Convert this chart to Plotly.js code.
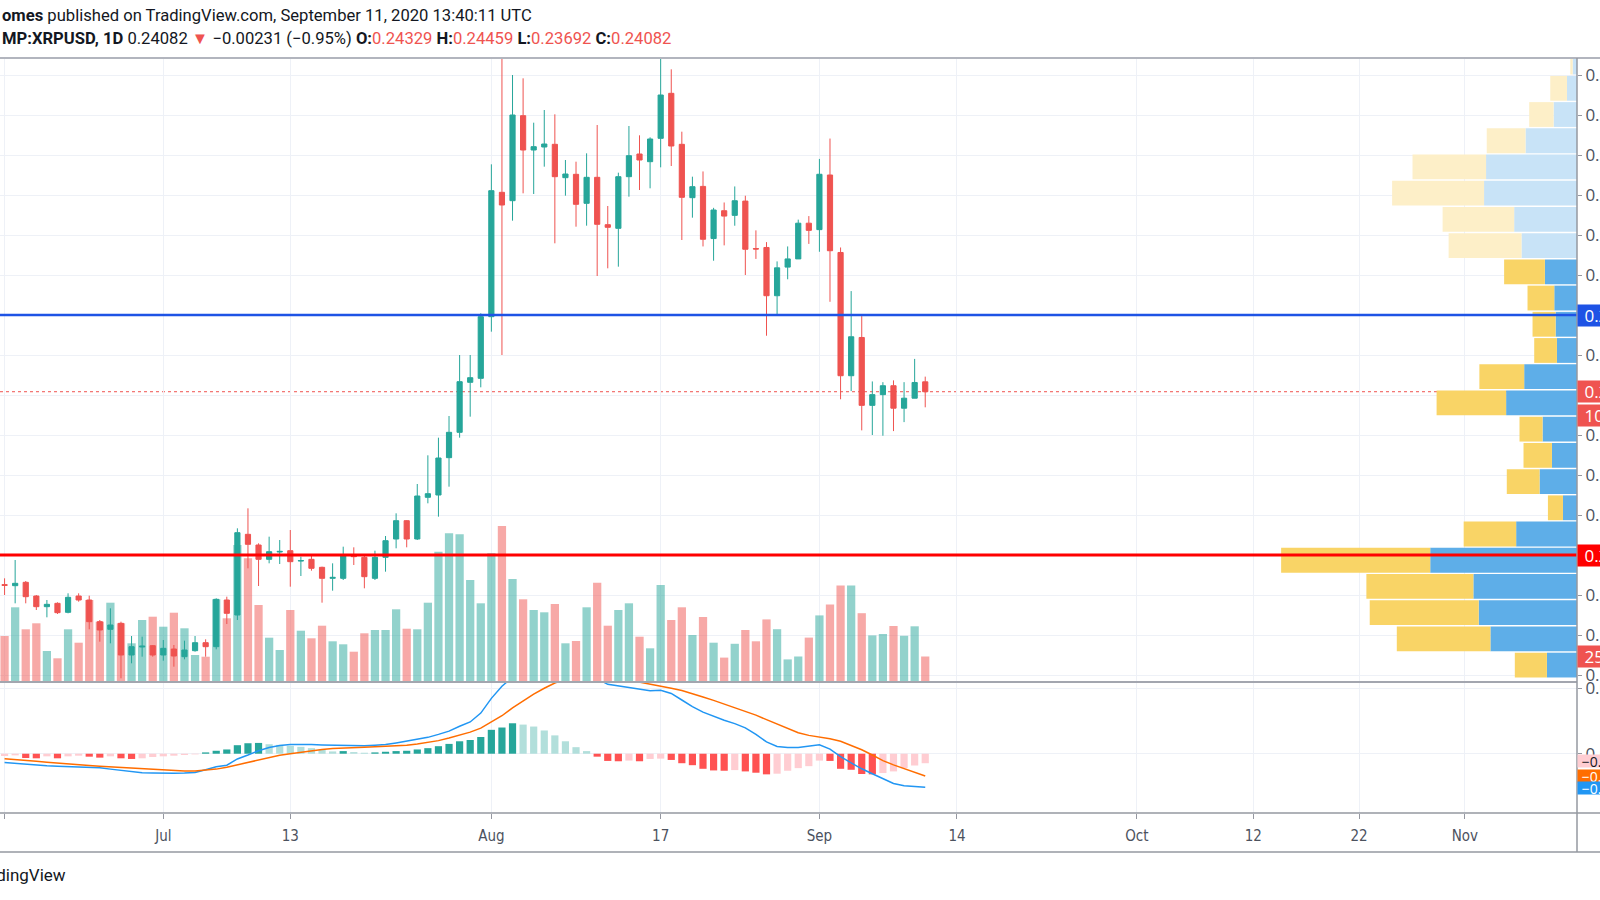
<!DOCTYPE html>
<html>
<head>
<meta charset="utf-8">
<script src="https://cdn.plot.ly/plotly-3.0.1.min.js"></script>
<style>
  html, body { margin: 0; padding: 0; background: #ffffff; }
  #chart { width: 1600px; height: 900px; }
</style>
</head>
<body>
<div id="chart"></div>
<script>
// ---------------- DATA ----------------
const dates = [
  '2020-06-16','2020-06-17','2020-06-18','2020-06-19','2020-06-20','2020-06-21','2020-06-22','2020-06-23','2020-06-24','2020-06-25',
  '2020-06-26','2020-06-27','2020-06-28','2020-06-29','2020-06-30','2020-07-01','2020-07-02','2020-07-03','2020-07-04','2020-07-05',
  '2020-07-06','2020-07-07','2020-07-08','2020-07-09','2020-07-10','2020-07-11','2020-07-12','2020-07-13','2020-07-14','2020-07-15',
  '2020-07-16','2020-07-17','2020-07-18','2020-07-19','2020-07-20','2020-07-21','2020-07-22','2020-07-23','2020-07-24','2020-07-25',
  '2020-07-26','2020-07-27','2020-07-28','2020-07-29','2020-07-30','2020-07-31','2020-08-01','2020-08-02','2020-08-03','2020-08-04',
  '2020-08-05','2020-08-06','2020-08-07','2020-08-08','2020-08-09','2020-08-10','2020-08-11','2020-08-12','2020-08-13','2020-08-14',
  '2020-08-15','2020-08-16','2020-08-17','2020-08-18','2020-08-19','2020-08-20','2020-08-21','2020-08-22','2020-08-23','2020-08-24',
  '2020-08-25','2020-08-26','2020-08-27','2020-08-28','2020-08-29','2020-08-30','2020-08-31','2020-09-01','2020-09-02','2020-09-03',
  '2020-09-04','2020-09-05','2020-09-06','2020-09-07','2020-09-08','2020-09-09','2020-09-10','2020-09-11'
];
const opens = [
  0.19260,0.19233,0.19317,0.18975,0.18708,0.18792,0.18567,0.18975,0.18875,0.18333,
  0.18142,0.18292,0.17500,0.17700,0.17733,0.17500,0.17650,0.17458,0.17608,0.17808,
  0.17708,0.18875,0.18500,0.20517,0.20250,0.19892,0.20075,0.20108,0.19850,0.19892,
  0.19692,0.19417,0.19417,0.19992,0.19942,0.19417,0.19942,0.20400,0.20858,0.20400,
  0.21442,0.21500,0.22433,0.23067,0.24317,0.24417,0.25958,0.29067,0.28858,0.30983,
  0.30125,0.30200,0.30267,0.29433,0.29517,0.28792,0.29442,0.28258,0.28167,0.29458,
  0.30025,0.29833,0.30417,0.31542,0.30267,0.28933,0.29215,0.27911,0.28607,0.28491,
  0.28848,0.27660,0.27688,0.26482,0.27197,0.27402,0.28295,0.28134,0.29500,0.27563,
  0.24482,0.25438,0.23741,0.24009,0.24232,0.23670,0.23920,0.24329
];
const highs = [
  0.19417,0.19875,0.19350,0.19000,0.18875,0.18817,0.19042,0.19042,0.18983,0.18375,
  0.18667,0.18333,0.17975,0.17958,0.17750,0.17875,0.17750,0.17858,0.17975,0.17892,
  0.18917,0.18958,0.20667,0.21167,0.20292,0.20458,0.20375,0.20625,0.19958,0.19983,
  0.19708,0.19792,0.20208,0.20192,0.20000,0.20108,0.20475,0.21042,0.20870,0.21775,
  0.22492,0.22933,0.23475,0.25000,0.25000,0.26042,0.29767,0.32600,0.32000,0.31917,
  0.30808,0.31125,0.31017,0.29875,0.29833,0.30042,0.30750,0.28725,0.29558,0.30725,
  0.30492,0.30442,0.32458,0.32142,0.30583,0.29458,0.29589,0.28679,0.28813,0.29214,
  0.28982,0.28116,0.27822,0.27340,0.27714,0.28384,0.28473,0.29902,0.30411,0.27688,
  0.26598,0.25973,0.24339,0.24321,0.24366,0.24321,0.24902,0.24459
];
const lows = [
  0.19000,0.18792,0.18792,0.18625,0.18442,0.18525,0.18542,0.18833,0.18142,0.17833,
  0.17792,0.16917,0.17292,0.17458,0.17458,0.17358,0.17208,0.17392,0.17583,0.17458,
  0.17642,0.18275,0.18375,0.19667,0.19225,0.19792,0.19775,0.19208,0.19475,0.19608,
  0.18808,0.19108,0.19375,0.19750,0.19167,0.19375,0.19583,0.20167,0.20192,0.20375,
  0.21292,0.20958,0.21708,0.22933,0.23458,0.24192,0.25583,0.25000,0.28358,0.29042,
  0.29025,0.29708,0.27792,0.28983,0.28208,0.28233,0.26975,0.27167,0.27208,0.28958,
  0.29125,0.29167,0.29692,0.29725,0.27875,0.28433,0.27714,0.27357,0.27741,0.28232,
  0.27000,0.27402,0.25482,0.26000,0.26893,0.27402,0.27777,0.27581,0.26330,0.23893,
  0.24098,0.23116,0.23000,0.22982,0.23098,0.23322,0.23920,0.23692
];
const closes = [
  0.19240,0.19292,0.18958,0.18708,0.18767,0.18558,0.18942,0.18875,0.18333,0.18125,
  0.18250,0.17500,0.17708,0.17720,0.17500,0.17667,0.17475,0.17625,0.17808,0.17708,
  0.18892,0.18542,0.20558,0.20267,0.19892,0.20083,0.20090,0.19833,0.19860,0.19667,
  0.19417,0.19440,0.19975,0.19958,0.19458,0.19942,0.20358,0.20858,0.20400,0.21475,
  0.21533,0.22425,0.23067,0.24333,0.24433,0.25958,0.29108,0.28750,0.31000,0.30125,
  0.30208,0.30275,0.29458,0.29525,0.28767,0.29442,0.28267,0.28192,0.29458,0.29983,
  0.29875,0.30400,0.31500,0.30225,0.28942,0.29208,0.27893,0.28625,0.28473,0.28857,
  0.27643,0.27650,0.26482,0.27179,0.27402,0.28295,0.28116,0.29518,0.27607,0.24482,
  0.25456,0.23741,0.24009,0.24232,0.23670,0.23920,0.24313,0.24082
];
// daily volume, millions
const volumes = [
  46.0,74.7,52.7,58.7,31.0,23.7,52.7,39.3,82.0,60.3,
  79.3,58.7,38.7,62.0,65.3,55.3,69.3,53.7,27.0,25.3,
  82.7,63.7,137.0,123.7,77.0,44.3,32.0,72.0,51.3,43.7,
  56.3,40.7,37.7,30.3,48.7,52.0,52.0,72.7,53.3,52.7,
  79.3,130.3,148.7,147.7,102.0,78.7,128.7,156.0,103.0,82.7,
  72.0,69.7,78.0,38.7,41.0,74.7,99.3,56.3,72.0,78.7,
  45.3,33.7,97.0,62.0,74.7,47.0,65.0,39.3,24.4,38.2,
  52.0,40.7,62.6,52.8,22.6,25.5,44.4,66.6,77.5,96.4,
  96.4,68.8,46.6,48.0,56.0,46.2,55.7,25.5
];
// MACD (12, 26, 9)
const macdLine = [
  -0.0027,-0.0030,-0.0033,-0.0035,-0.0037,-0.0038,-0.0039,-0.0040,-0.0041,-0.0043,
  -0.0047,-0.0051,-0.0055,-0.0058,-0.0059,-0.0060,-0.0060,-0.0059,-0.0057,-0.0049,
  -0.0040,-0.0035,-0.0016,-0.0004,0.0009,0.0019,0.0025,0.0028,0.0029,0.0028,
  0.0027,0.0026,0.0026,0.0025,0.0024,0.0026,0.0028,0.0033,0.0038,0.0043,
  0.0050,0.0059,0.0069,0.0084,0.0097,0.0124,0.0169,0.0206,0.0234,0.0249,
  0.0259,0.0264,0.0264,0.0260,0.0252,0.0242,0.0229,0.0212,0.0207,0.0200,
  0.0195,0.0192,0.0194,0.0184,0.0164,0.0144,0.0127,0.0114,0.0102,0.0092,
  0.0079,0.0059,0.0036,0.0022,0.0019,0.0019,0.0022,0.0027,0.0014,-0.0009,
  -0.0028,-0.0046,-0.0061,-0.0076,-0.0091,-0.0098,-0.0101,-0.0102
];
const signalLine = [
  -0.0015,-0.0017,-0.0020,-0.0023,-0.0026,-0.0029,-0.0032,-0.0034,-0.0036,-0.0038,
  -0.0040,-0.0042,-0.0044,-0.0046,-0.0048,-0.0050,-0.0052,-0.0053,-0.0053,-0.0051,
  -0.0047,-0.0041,-0.0034,-0.0026,-0.0018,-0.0011,-0.0005,0.0000,0.0005,0.0009,
  0.0013,0.0016,0.0018,0.0019,0.0020,0.0021,0.0022,0.0023,0.0026,0.0030,
  0.0034,0.0040,0.0048,0.0057,0.0066,0.0078,0.0096,0.0116,0.0140,0.0162,
  0.0182,0.0200,0.0216,0.0228,0.0236,0.0240,0.0239,0.0236,0.0231,0.0225,
  0.0220,0.0214,0.0207,0.0200,0.0193,0.0184,0.0173,0.0163,0.0152,0.0142,
  0.0131,0.0118,0.0104,0.0091,0.0077,0.0064,0.0056,0.0051,0.0046,0.0038,
  0.0026,0.0012,-0.0004,-0.0021,-0.0034,-0.0046,-0.0057,-0.0068
];
const macdHist = [
  -0.0007,-0.0005,-0.0013,-0.0014,-0.0008,-0.0014,-0.0008,-0.0006,-0.0009,-0.0012,
  -0.0008,-0.0014,-0.0016,-0.0014,-0.0010,-0.0008,-0.0006,-0.0004,-0.0002,0.0004,
  0.0009,0.0013,0.0026,0.0032,0.0033,0.0029,0.0027,0.0024,0.0021,0.0017,
  0.0013,0.0007,0.0008,0.0005,0.0003,0.0004,0.0006,0.0008,0.0009,0.0013,
  0.0017,0.0023,0.0030,0.0038,0.0042,0.0051,0.0073,0.0080,0.0093,0.0089,
  0.0083,0.0071,0.0056,0.0038,0.0020,0.0008,-0.0009,-0.0022,-0.0023,-0.0021,
  -0.0023,-0.0016,-0.0015,-0.0019,-0.0029,-0.0035,-0.0046,-0.0051,-0.0052,-0.0050,
  -0.0054,-0.0058,-0.0063,-0.0061,-0.0052,-0.0044,-0.0038,-0.0021,-0.0022,-0.0046,
  -0.0049,-0.0062,-0.0063,-0.0059,-0.0054,-0.0044,-0.0036,-0.0029
];
// Volume profile (visible range), rows from low to high price
const vpRowPrice = [
  0.17248,0.17903,0.18558,0.19214,0.19869,0.20525,0.21180,0.21836,0.22491,0.23146,
  0.23802,0.24457,0.25113,0.25768,0.26424,0.27079,0.27734,0.28390,0.29045,0.29701,
  0.30356,0.31012,0.31667,0.32323
];
const vpUp = [90,259,294,310,439,182,42,112,75,103,212,158,60,64,68,96,166,188,278,272,154,70,30,13];
const vpDown = [96,280,326,320,446,157,45,98,85,69,208,134,68,69,80,122,218,214,275,220,116,73,50,7];
const vpValueAreaTop = 15;   // last row index inside the value area

const resistanceLevel = 0.26;
const supportLevel = 0.20;

const tickDates = ['2020-06-16','2020-07-01','2020-07-13','2020-08-01','2020-08-17','2020-09-01','2020-09-14','2020-10-01','2020-10-12','2020-10-22','2020-11-01'];
const tickLabels = ['16','Jul','13','Aug','17','Sep','14','Oct','12','22','Nov'];

const headerLine1 = '<b>omes</b> published on TradingView.com, September 11, 2020 13:40:11 UTC';
const symbolText = 'MP:XRPUSD, 1D';
const countdownText = '10:19:49';

// ---------------- STYLE ----------------
const UP = '#26a69a', DOWN = '#ef5350';
const UP_VOL = 'rgba(38,166,154,0.5)', DOWN_VOL = 'rgba(239,83,80,0.5)';
const GRID = '#eef1f7';
const AXIS = '#9598a1';
const TXT = '#131722';
const TICKTXT = '#4c525e';
const NARROW = 'DejaVu Sans Condensed, sans-serif';
const HEAD = 'Roboto, sans-serif';

const W = 1600, H = 900;
const ML = 0, MR = 23, MT = 58, MB = 87;
const plotH = H - MT - MB;          // 755
const sepPx = 682;                   // price / MACD separator
const macdTop = (H - MB - sepPx) / plotH;
const py = px => (H - MB - px) / plotH;   // pixel row -> paper y
const pxX = px => (px - ML) / (W - ML - MR);

const n = closes.length;
const volColors = closes.map((c, i) => c >= opens[i] ? UP_VOL : DOWN_VOL);
const histColors = macdHist.map((h, i) => {
  const prev = i > 0 ? macdHist[i - 1] : -Infinity;
  if (h >= 0) return h > prev ? '#26a69a' : '#b2dfdb';
  return h > prev ? '#ffcdd2' : '#ff5252';
});
const vpUpColors = vpUp.map((v, i) => i <= vpValueAreaTop ? '#5eaee8' : '#c8e3f7');
const vpDownColors = vpDown.map((v, i) => i <= vpValueAreaTop ? '#f9d466' : '#fdefc8');
const vpMaxTotal = Math.max(...vpUp.map((u, i) => u + vpDown[i]));

const lastClose = closes[n - 1];
const prevClose = closes[n - 2];
const chg = lastClose - prevClose;
const chgPct = chg / prevClose * 100;
const fmtSigned = v => (v < 0 ? '\u2212' : '+') + Math.abs(v).toFixed(5);
const red = t => `<span style="color:${DOWN}">${t}</span>`;
const headerLine2 = `<b>${symbolText}</b> ${lastClose.toFixed(5)} ${red('\u25BC')} ${fmtSigned(chg)} (${chgPct < 0 ? '\u2212' : '+'}${Math.abs(chgPct).toFixed(2)}%) ` +
  `<b>O:</b>${red(opens[n-1].toFixed(5))} <b>H:</b>${red(highs[n-1].toFixed(5))} <b>L:</b>${red(lows[n-1].toFixed(5))} <b>C:</b>${red(lastClose.toFixed(5))}`;

const DAY = 86400000;

const traces = [
  { type: 'bar', x: dates, y: volumes, xaxis: 'x', yaxis: 'y',
    marker: { color: volColors, line: { width: 0 } }, width: 0.78 * DAY, hoverinfo: 'skip' },
  { type: 'candlestick', x: dates, open: opens, high: highs, low: lows, close: closes,
    xaxis: 'x', yaxis: 'y2', whiskerwidth: 0,
    increasing: { line: { color: UP, width: 1 }, fillcolor: UP },
    decreasing: { line: { color: DOWN, width: 1 }, fillcolor: DOWN },
    hoverinfo: 'skip' },
  { type: 'bar', orientation: 'h', y: vpRowPrice, x: vpUp, xaxis: 'x2', yaxis: 'y2',
    width: 0.0062, marker: { color: vpUpColors, line: { width: 0 } }, hoverinfo: 'skip' },
  { type: 'bar', orientation: 'h', y: vpRowPrice, x: vpDown, base: vpUp, xaxis: 'x2', yaxis: 'y2',
    width: 0.0062, marker: { color: vpDownColors, line: { width: 0 } }, hoverinfo: 'skip' },
  { type: 'bar', x: dates, y: macdHist, xaxis: 'x', yaxis: 'y3',
    marker: { color: histColors, line: { width: 0 } }, width: 0.68 * DAY, hoverinfo: 'skip' },
  { type: 'scatter', mode: 'lines', x: dates, y: macdLine, xaxis: 'x', yaxis: 'y3',
    line: { color: '#2196f3', width: 1.5 }, hoverinfo: 'skip' },
  { type: 'scatter', mode: 'lines', x: dates, y: signalLine, xaxis: 'x', yaxis: 'y3',
    line: { color: '#ff6d00', width: 1.5 }, hoverinfo: 'skip' }
];

const gray = { color: AXIS, width: 1.5 };
const shapes = [
  { type: 'line', xref: 'paper', yref: 'y2', x0: 0, x1: 1, y0: lastClose, y1: lastClose,
    line: { color: DOWN, width: 1, dash: 'dot' }, layer: 'between' },
  { type: 'line', xref: 'paper', yref: 'y2', x0: 0, x1: 1, y0: resistanceLevel, y1: resistanceLevel,
    line: { color: '#1e53e5', width: 2.5 } },
  { type: 'line', xref: 'paper', yref: 'y2', x0: 0, x1: 1, y0: supportLevel, y1: supportLevel,
    line: { color: '#ff0000', width: 3 } },
  { type: 'line', xref: 'paper', yref: 'paper', x0: 0, x1: pxX(W), y0: 1, y1: 1, line: { color: '#b2b5be', width: 2 } },
  { type: 'line', xref: 'paper', yref: 'paper', x0: 0, x1: 1, y0: macdTop, y1: macdTop, line: { color: '#a3a6af', width: 2 } },
  { type: 'line', xref: 'paper', yref: 'paper', x0: 0, x1: pxX(W), y0: 0, y1: 0, line: gray },
  { type: 'line', xref: 'paper', yref: 'paper', x0: 0, x1: pxX(W), y0: py(852), y1: py(852), line: gray },
  { type: 'line', xref: 'paper', yref: 'paper', x0: 1, x1: 1, y0: py(852), y1: 1, line: gray }
];

const boxFont = { family: 'Open Sans, sans-serif', size: 17, color: '#ffffff' };
const sideBox = (yref, y, text, bg, fontColor, extra) => Object.assign({
  xref: 'paper', x: 1, xanchor: 'left', yref: yref, y: y, yanchor: 'middle',
  text: text, showarrow: false, bgcolor: bg, borderpad: 2, height: 17, align: 'left',
  xshift: 0, font: Object.assign({}, boxFont, fontColor ? { color: fontColor } : {})
}, extra || {});
const macdBox = (y, text, bg, color, shift) => sideBox('y3', y, text, bg, null,
  { font: { family: 'Open Sans, sans-serif', size: 14, color: color }, height: 12, borderpad: 0, yshift: shift });

const annotations = [
  { xref: 'paper', yref: 'paper', x: 0, y: py(15), xanchor: 'left', yanchor: 'middle', showarrow: false,
    text: headerLine1, font: { family: HEAD, size: 16.6, color: TXT } },
  { xref: 'paper', yref: 'paper', x: 0, y: py(38), xanchor: 'left', yanchor: 'middle', showarrow: false,
    text: headerLine2, font: { family: HEAD, size: 16.6, color: TXT } },
  { xref: 'paper', yref: 'paper', x: pxX(68), y: py(875), xanchor: 'right', yanchor: 'middle', showarrow: false,
    text: 'TradingView', font: { family: HEAD, size: 17, color: TXT } },
  sideBox('y2', resistanceLevel, '&nbsp;' + resistanceLevel.toFixed(5), '#1e53e5'),
  sideBox('y2', supportLevel, '&nbsp;' + supportLevel.toFixed(5), '#ff0000'),
  sideBox('y2', lastClose, '&nbsp;' + lastClose.toFixed(5), DOWN),
  sideBox('y2', lastClose, '&nbsp;' + countdownText, DOWN, null, { yshift: -24 }),
  sideBox('y', volumes[n - 1], '&nbsp;' + volumes[n - 1].toFixed(3) + 'M', DOWN),
  macdBox(macdHist[n - 1], '&nbsp;' + fmtSigned(macdHist[n - 1]), '#ffcdd2', TXT, 2),
  macdBox(signalLine[n - 1], '&nbsp;' + fmtSigned(signalLine[n - 1]), '#ff6d00', '#ffffff', 0),
  macdBox(macdLine[n - 1], '&nbsp;' + fmtSigned(macdLine[n - 1]), '#2196f3', '#ffffff', -1)
];

const layout = {
  width: W, height: H,
  margin: { l: ML, r: MR, t: MT, b: MB, pad: 0 },
  paper_bgcolor: '#ffffff', plot_bgcolor: '#ffffff',
  showlegend: false, barmode: 'overlay', hovermode: false,
  xaxis: {
    type: 'date', domain: [0, 1], anchor: 'y3',
    range: ['2020-06-15 13:38', '2020-11-11 14:10'],
    tickmode: 'array', tickvals: tickDates, ticktext: tickLabels,
    ticks: 'outside', ticklen: 5, tickcolor: AXIS, tickwidth: 1, ticklabelstandoff: 4,
    showgrid: true, gridcolor: GRID, gridwidth: 1, zeroline: false, showline: false,
    tickfont: { family: NARROW, size: 15, color: TICKTXT },
    rangeslider: { visible: false }, fixedrange: true
  },
  xaxis2: { overlaying: 'x', anchor: 'y2', range: [vpMaxTotal * 5.33, 0], visible: false, fixedrange: true },
  yaxis: { domain: [macdTop, 1], range: [0, sepPx - MT], visible: false, fixedrange: true },
  yaxis2: {
    overlaying: 'y', side: 'right', anchor: 'x',
    range: [0.16825, 0.32425], tick0: 0, dtick: 0.01, tickformat: '.5f',
    ticks: 'outside', ticklen: 4, tickcolor: AXIS, showgrid: true, gridcolor: GRID,
    zeroline: false, showline: false, ticklabelstandoff: 0,
    tickfont: { family: 'Open Sans, sans-serif', size: 17, color: TICKTXT }, fixedrange: true
  },
  yaxis3: {
    domain: [0, macdTop], anchor: 'x', side: 'right',
    range: [-0.0181, 0.0219], tick0: 0, dtick: 0.02, tickformat: '.5f',
    ticks: 'outside', ticklen: 4, tickcolor: AXIS, showgrid: true, gridcolor: GRID,
    zeroline: false, showline: false, ticklabelstandoff: 0,
    tickfont: { family: 'Open Sans, sans-serif', size: 17, color: TICKTXT }, fixedrange: true
  },
  shapes: shapes,
  annotations: annotations
};

Plotly.newPlot('chart', traces, layout, { staticPlot: true, displayModeBar: false });
</script>
</body>
</html>
